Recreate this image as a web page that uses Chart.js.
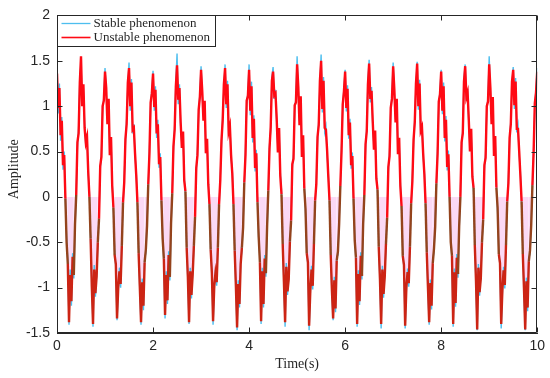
<!DOCTYPE html>
<html><head><meta charset="utf-8">
<script src="https://cdn.jsdelivr.net/npm/chart.js@4/dist/chart.umd.min.js"></script>
<style>html,body{margin:0;padding:0;background:#fff}#wrap{width:550px;height:378px;position:relative}</style>
</head><body><div id="wrap"><canvas id="c" width="550" height="378"></canvas></div>
<script>
const seriesNames = ['Stable phenomenon', 'Unstable phenomenon'];
const xTitle = 'Time(s)';
const yTitle = 'Amplitude';
const sampleStep = 0.025; // seconds between samples
const xTicks = [0, 2, 4, 6, 8, 10];
const yTicks = [-1.5, -1, -0.5, 0, 0.5, 1, 1.5, 2];

const stable = [
 1.44, 0.92, 1.25, 0.62, 0.88, 0.30, 0.50, -0.05, -0.45, -0.70, -1.41, -0.80, -1.20, -0.62, -0.90, -0.35, 0.05, 0.55, 0.75, 1.30,
 1.48, 1.05, 1.20, 0.80, 0.55, 0.70, 0.25, 0.05, -0.50, -0.95, -1.43, -0.75, -1.10, -0.85, -0.55, -0.20, 0.30, 0.48, 0.95, 1.10,
 1.42, 1.15, 0.85, 1.05, 0.50, 0.62, 0.15, -0.15, -0.60, -0.78, -1.36, -1.05, -0.78, -1.00, -0.50, -0.10, 0.20, 0.60, 0.85, 1.22,
 1.48, 0.95, 1.30, 0.70, 0.80, 0.45, 0.28, -0.10, -0.58, -1.05, -1.41, -0.90, -1.25, -0.68, -0.62, -0.28, 0.10, 0.52, 1.00, 1.18,
 1.39, 0.95, 1.22, 0.65, 0.85, 0.32, 0.48, -0.08, -0.42, -0.72, -1.34, -0.82, -1.18, -0.60, -0.92, -0.33, 0.08, 0.52, 0.78, 1.27,
 1.58, 1.02, 1.24, 0.78, 0.58, 0.68, 0.22, 0.02, -0.52, -0.92, -1.40, -0.78, -1.12, -0.82, -0.58, -0.18, 0.28, 0.50, 0.92, 1.14,
 1.44, 1.12, 0.88, 1.02, 0.52, 0.60, 0.18, -0.12, -0.62, -0.80, -1.41, -1.02, -0.80, -0.98, -0.52, -0.12, 0.22, 0.58, 0.88, 1.20,
 1.46, 0.98, 1.28, 0.68, 0.82, 0.42, 0.30, -0.12, -0.55, -1.02, -1.47, -0.92, -1.22, -0.70, -0.60, -0.30, 0.12, 0.50, 1.02, 1.15,
 1.46, 0.90, 1.27, 0.60, 0.90, 0.28, 0.52, -0.02, -0.48, -0.68, -1.40, -0.78, -1.22, -0.64, -0.88, -0.37, 0.03, 0.57, 0.73, 1.32,
 1.43, 1.08, 1.18, 0.82, 0.53, 0.72, 0.27, 0.07, -0.48, -0.97, -1.43, -0.73, -1.08, -0.87, -0.53, -0.22, 0.32, 0.46, 0.97, 1.08,
 1.55, 1.17, 0.83, 1.07, 0.48, 0.64, 0.13, -0.17, -0.58, -0.76, -1.47, -1.07, -0.76, -1.02, -0.48, -0.08, 0.18, 0.62, 0.83, 1.24,
 1.57, 0.93, 1.32, 0.72, 0.78, 0.47, 0.26, -0.08, -0.60, -1.07, -1.36, -0.88, -1.27, -0.66, -0.64, -0.26, 0.08, 0.54, 0.98, 1.20,
 1.40, 0.94, 1.23, 0.64, 0.86, 0.31, 0.49, -0.06, -0.44, -0.71, -1.43, -0.81, -1.19, -0.61, -0.91, -0.34, 0.06, 0.54, 0.76, 1.28,
 1.51, 1.04, 1.21, 0.79, 0.56, 0.69, 0.24, 0.04, -0.51, -0.94, -1.45, -0.76, -1.11, -0.84, -0.56, -0.19, 0.29, 0.49, 0.94, 1.12,
 1.48, 1.14, 0.86, 1.04, 0.51, 0.61, 0.16, -0.14, -0.61, -0.79, -1.45, -1.04, -0.79, -0.99, -0.51, -0.11, 0.21, 0.59, 0.86, 1.21,
 1.49, 0.96, 1.29, 0.69, 0.81, 0.44, 0.29, -0.11, -0.57, -1.04, -1.41, -0.91, -1.24, -0.69, -0.61, -0.29, 0.11, 0.51, 1.01, 1.17,
 1.40, 0.91, 1.26, 0.61, 0.89, 0.29, 0.51, -0.04, -0.46, -0.69, -1.43, -0.79, -1.21, -0.63, -0.89, -0.36, 0.04, 0.56, 0.74, 1.31,
 1.46, 1.06, 1.19, 0.81, 0.54, 0.71, 0.26, 0.06, -0.49, -0.96, -1.47, -0.74, -1.09, -0.86, -0.54, -0.21, 0.31, 0.47, 0.96, 1.09,
 1.55, 1.16, 0.84, 1.06, 0.49, 0.63, 0.14, -0.16, -0.59, -0.77, -1.45, -1.06, -0.77, -1.01, -0.49, -0.09, 0.19, 0.61, 0.84, 1.23,
 1.43, 0.97, 1.31, 0.71, 0.79, 0.46, 0.27, -0.09, -0.59, -1.06, -1.47, -0.89, -1.26, -0.67, -0.63, -0.27, 0.09, 0.53, 0.99, 1.19,
 1.42
];

const unstable = [
 1.36, 0.98, 1.20, 0.68, 0.84, 0.35, 0.46, -0.02, -0.50, -0.74, -1.38, -0.86, -1.15, -0.66, -0.86, -0.30, 0.02, 0.60, 0.70, 1.26,
 1.55, 1.00, 1.24, 0.76, 0.60, 0.66, 0.28, 0.00, -0.46, -0.99, -1.40, -0.80, -1.06, -0.88, -0.50, -0.24, 0.34, 0.44, 1.00, 1.06,
 1.38, 1.20, 0.80, 1.08, 0.46, 0.66, 0.12, -0.12, -0.64, -0.74, -1.34, -1.00, -0.82, -0.96, -0.54, -0.06, 0.16, 0.64, 0.80, 1.26,
 1.42, 1.00, 1.26, 0.74, 0.76, 0.48, 0.24, -0.06, -0.62, -1.00, -1.38, -0.94, -1.20, -0.72, -0.58, -0.32, 0.14, 0.48, 1.04, 1.14,
 1.36, 0.99, 1.18, 0.70, 0.80, 0.36, 0.44, -0.04, -0.46, -0.68, -1.30, -0.86, -1.14, -0.64, -0.88, -0.29, 0.04, 0.56, 0.74, 1.22,
 1.45, 1.07, 1.20, 0.82, 0.54, 0.72, 0.18, 0.06, -0.56, -0.88, -1.38, -0.82, -1.08, -0.86, -0.54, -0.22, 0.32, 0.46, 0.96, 1.10,
 1.40, 1.16, 0.84, 1.06, 0.48, 0.64, 0.14, -0.08, -0.58, -0.84, -1.37, -0.98, -0.84, -0.94, -0.56, -0.08, 0.18, 0.62, 0.84, 1.24,
 1.42, 1.02, 1.24, 0.72, 0.78, 0.46, 0.26, -0.08, -0.59, -0.98, -1.44, -0.96, -1.18, -0.74, -0.56, -0.34, 0.16, 0.46, 1.06, 1.11,
 1.40, 0.95, 1.22, 0.65, 0.86, 0.32, 0.48, -0.06, -0.44, -0.72, -1.37, -0.82, -1.18, -0.68, -0.84, -0.33, 0.07, 0.53, 0.77, 1.28,
 1.38, 1.12, 1.14, 0.86, 0.49, 0.76, 0.23, 0.03, -0.52, -0.93, -1.38, -0.77, -1.04, -0.91, -0.49, -0.26, 0.36, 0.42, 1.01, 1.04,
 1.46, 1.21, 0.79, 1.11, 0.44, 0.68, 0.09, -0.13, -0.62, -0.72, -1.42, -1.03, -0.80, -0.98, -0.52, -0.04, 0.14, 0.66, 0.79, 1.28,
 1.50, 0.97, 1.28, 0.76, 0.74, 0.51, 0.22, -0.04, -0.64, -1.03, -1.34, -0.92, -1.23, -0.70, -0.60, -0.30, 0.12, 0.50, 1.02, 1.16,
 1.38, 0.98, 1.19, 0.68, 0.82, 0.35, 0.45, -0.02, -0.48, -0.67, -1.40, -0.85, -1.15, -0.65, -0.87, -0.30, 0.02, 0.58, 0.72, 1.24,
 1.47, 1.08, 1.17, 0.83, 0.52, 0.73, 0.20, 0.08, -0.55, -0.90, -1.40, -0.80, -1.07, -0.88, -0.52, -0.23, 0.33, 0.45, 0.98, 1.08,
 1.44, 1.18, 0.82, 1.08, 0.47, 0.65, 0.12, -0.10, -0.65, -0.75, -1.42, -1.00, -0.83, -0.95, -0.55, -0.07, 0.17, 0.63, 0.82, 1.25,
 1.47, 1.00, 1.25, 0.73, 0.77, 0.48, 0.25, -0.07, -0.61, -1.00, -1.38, -0.95, -1.20, -0.73, -0.57, -0.33, 0.15, 0.47, 1.05, 1.13,
 1.38, 0.95, 1.22, 0.65, 0.85, 0.33, 0.47, 0.00, -0.50, -0.65, -1.40, -0.83, -1.17, -0.67, -0.85, -0.32, 0.00, 0.60, 0.70, 1.27,
 1.44, 1.10, 1.15, 0.85, 0.50, 0.75, 0.22, 0.10, -0.53, -0.92, -1.46, -0.78, -1.05, -0.90, -0.50, -0.25, 0.35, 0.43, 1.00, 1.05,
 1.46, 1.20, 0.80, 1.10, 0.45, 0.67, 0.10, -0.12, -0.63, -0.73, -1.40, -1.02, -0.81, -0.97, -0.53, -0.05, 0.15, 0.65, 0.80, 1.27,
 1.40, 1.01, 1.27, 0.75, 0.75, 0.50, 0.23, -0.05, -0.63, -1.02, -1.46, -0.93, -1.22, -0.71, -0.59, -0.31, 0.13, 0.49, 1.03, 1.15,
 1.38
];

const time = stable.map((_, i) => +(i * sampleStep).toFixed(3));
const toPoints = arr => arr.map((y, i) => ({ x: time[i], y }));

const BLUE = '#4DBEEE';
const RED = '#FF0A14';
const AXIS = '#262626';
const SERIF = '"Liberation Serif", "DejaVu Serif", serif';
const SANS = '"Liberation Sans", Arial, sans-serif';

const frame = {
  id: 'frame',
  afterDraw(chart) {
    const { ctx, chartArea: a, scales: { x, y } } = chart;
    ctx.save();
    ctx.strokeStyle = AXIS;
    ctx.lineWidth = 1;
    const L = Math.round(a.left) + 0.5, R = Math.round(a.right) - 0.5;
    const T = Math.round(a.top) + 0.5, B = Math.round(a.bottom) - 0.5;
    ctx.beginPath();
    ctx.rect(L, T, R - L, B - T);
    const tl = 5;
    xTicks.forEach(v => {
      const px = Math.round(x.getPixelForValue(v)) + 0.5;
      ctx.moveTo(px, B); ctx.lineTo(px, B - tl);
      ctx.moveTo(px, T); ctx.lineTo(px, T + tl);
    });
    yTicks.forEach(v => {
      const py = Math.round(y.getPixelForValue(v)) + 0.5;
      ctx.moveTo(L, py); ctx.lineTo(L + tl, py);
      ctx.moveTo(R, py); ctx.lineTo(R - tl, py);
    });
    ctx.stroke();

    // legend box (top-left, inside the axes)
    const bx = L, by = T, bw = 158, bh = 31;
    ctx.fillStyle = '#fff';
    ctx.fillRect(bx, by, bw, bh);
    ctx.strokeRect(bx, by, bw, bh);
    const items = [
      { label: seriesNames[0], color: BLUE, w: 1.3, yy: by + 8 },
      { label: seriesNames[1], color: RED, w: 1.6, yy: by + 22 }
    ];
    ctx.font = '13px ' + SERIF;
    ctx.textBaseline = 'middle';
    ctx.textAlign = 'left';
    items.forEach(it => {
      ctx.strokeStyle = it.color; ctx.lineWidth = it.w;
      ctx.beginPath(); ctx.moveTo(bx + 4, it.yy); ctx.lineTo(bx + 33, it.yy); ctx.stroke();
      ctx.fillStyle = AXIS;
      ctx.fillText(it.label, bx + 36, it.yy + 0.5);
    });

    // axis titles
    ctx.fillStyle = AXIS;
    ctx.font = '14px ' + SERIF;
    ctx.textAlign = 'center';
    ctx.textBaseline = 'middle';
    ctx.fillText(xTitle, (a.left + a.right) / 2, 364);
    ctx.save();
    ctx.translate(14, (a.top + a.bottom) / 2 - 5);
    ctx.rotate(-Math.PI / 2);
    ctx.fillText(yTitle, 0, 0);
    ctx.restore();
    ctx.restore();
  }
};

new Chart(document.getElementById('c'), {
  type: 'line',
  data: {
    datasets: [
      {
        label: seriesNames[1],
        data: toPoints(unstable),
        borderColor: RED,
        borderWidth: 2.4,
        pointRadius: 0,
        tension: 0,
        fill: { target: 'origin', above: 'rgba(0,0,0,0)', below: 'rgba(246,170,232,0.45)' },
        segment: {
          borderColor: c => {
            const m = (c.p0.parsed.y + c.p1.parsed.y) / 2;
            if (m < 0 && m > -0.65) return '#94431c';
            if (m <= -0.65) return '#cc2414';
            return RED;
          }
        }
      },
      {
        label: seriesNames[0],
        data: toPoints(stable),
        borderColor: BLUE,
        borderWidth: 1.4,
        pointRadius: 0,
        tension: 0,
        fill: false
      }
    ]
  },
  options: {
    responsive: false,
    animation: false,
    devicePixelRatio: 1,
    layout: { padding: { top: 12, right: 11, left: 0, bottom: 0 } },
    plugins: {
      legend: { display: false },
      tooltip: { enabled: false },
      filler: { drawTime: 'beforeDatasetsDraw' }
    },
    scales: {
      x: {
        type: 'linear',
        min: 0, max: 10,
        afterBuildTicks: s => { s.ticks = xTicks.map(v => ({ value: v })); },
        afterFit: s => { s.height = 45; },
        grid: { display: true, drawOnChartArea: false, drawTicks: false, color: AXIS },
        border: { display: true, color: AXIS, width: 1 },
        ticks: { color: AXIS, font: { family: SANS, size: 14 }, padding: 5, maxRotation: 0, callback: v => String(v) }
      },
      y: {
        type: 'linear',
        min: -1.5, max: 2,
        afterBuildTicks: s => { s.ticks = yTicks.map(v => ({ value: v })); },
        afterFit: s => { s.width = 57; },
        grid: { display: true, drawOnChartArea: false, drawTicks: false, color: AXIS },
        border: { display: true, color: AXIS, width: 1 },
        ticks: { color: AXIS, font: { family: SANS, size: 14 }, padding: 7, callback: v => String(v) }
      }
    }
  },
  plugins: [frame]
});
</script>
</body></html>
